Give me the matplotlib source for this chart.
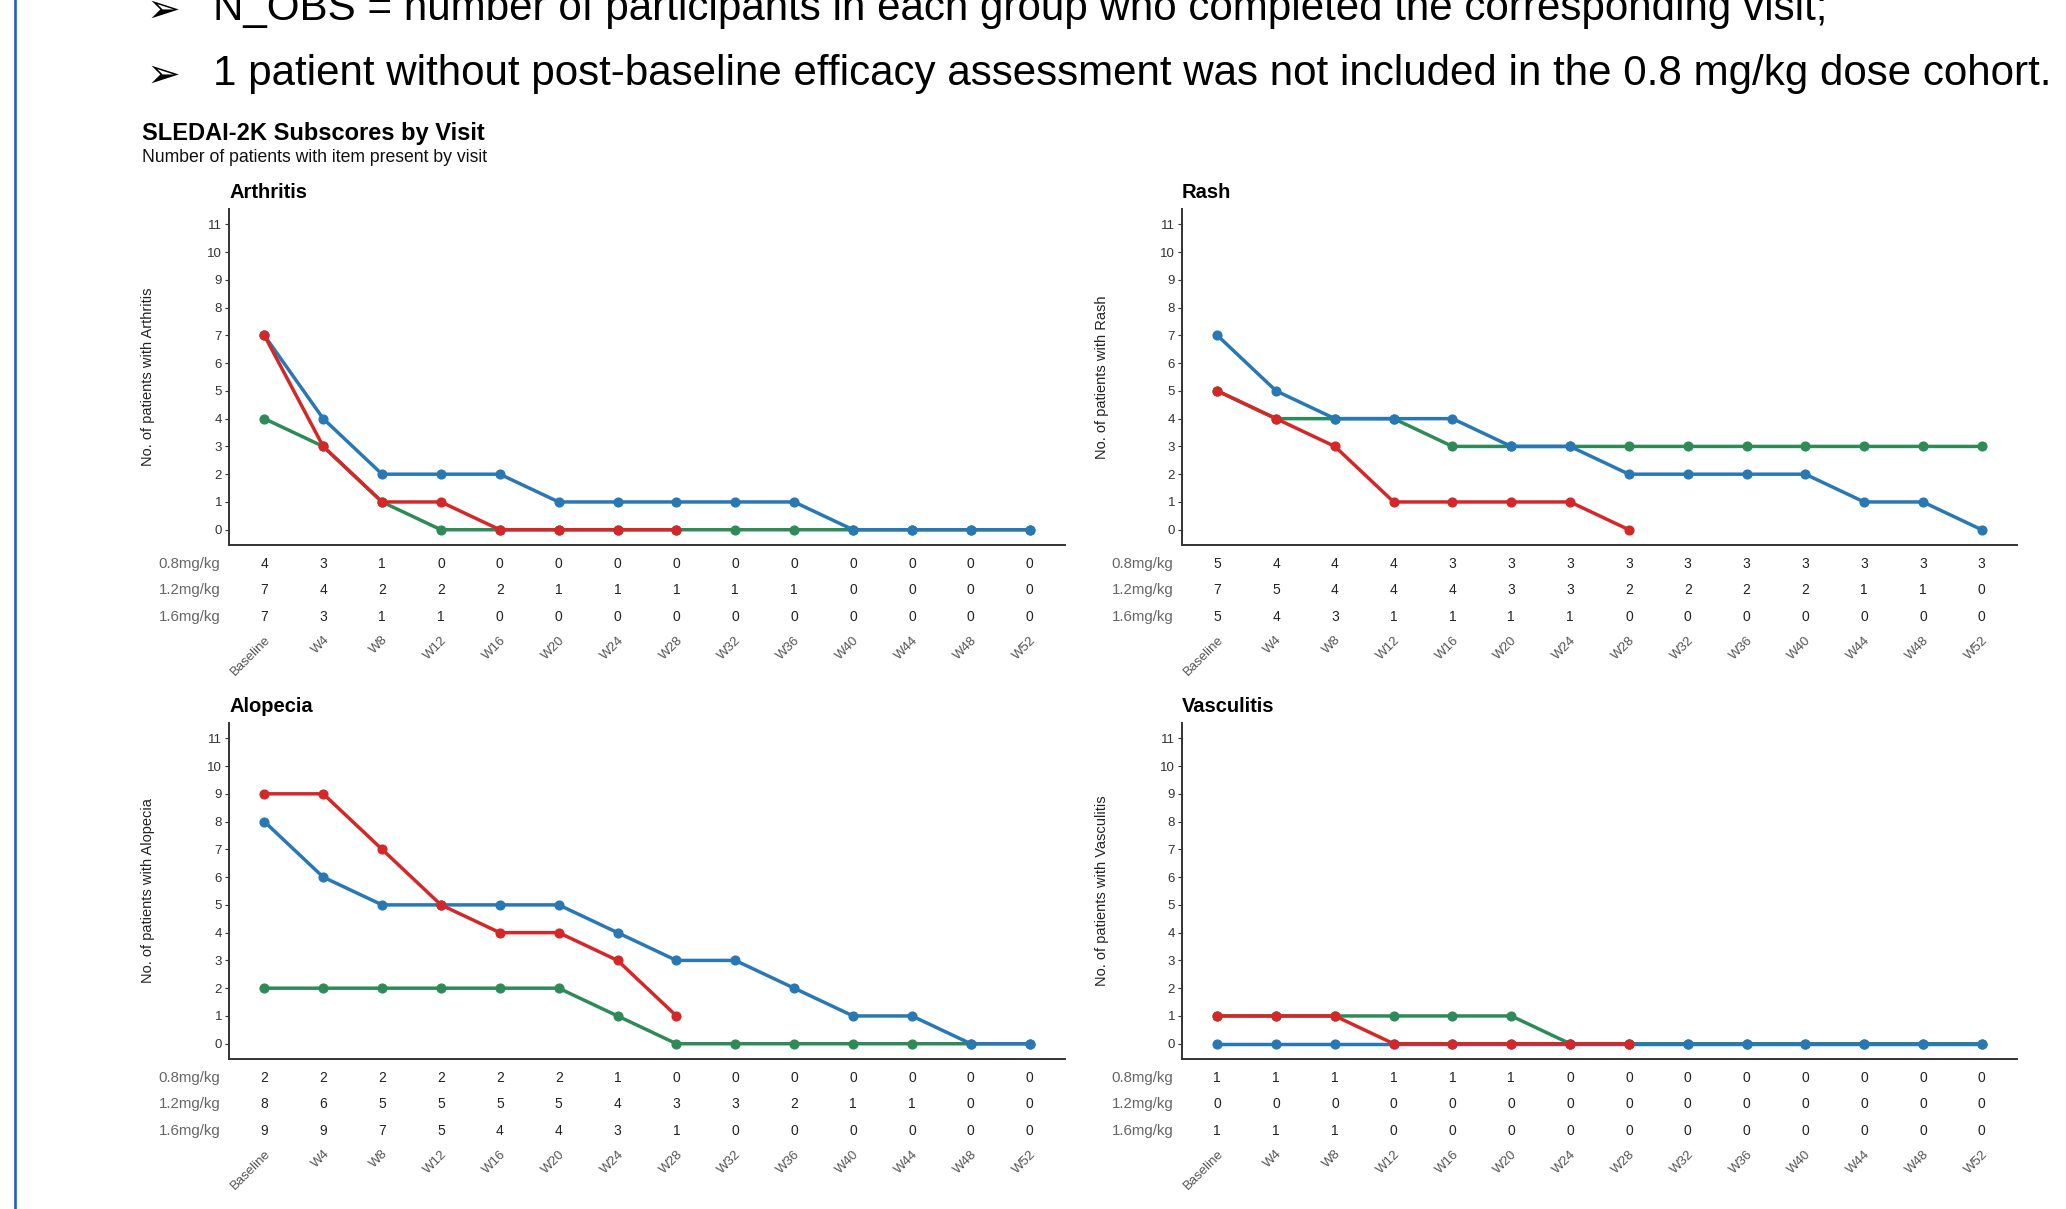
import matplotlib
matplotlib.use('Agg')
import matplotlib.pyplot as plt
from matplotlib.lines import Line2D

plt.rcParams['font.family'] = ['Liberation Sans', 'DejaVu Sans']

visits = ['Baseline', 'W4', 'W8', 'W12', 'W16', 'W20', 'W24', 'W28',
          'W32', 'W36', 'W40', 'W44', 'W48', 'W52']
doses = ['0.8mg/kg', '1.2mg/kg', '1.6mg/kg']
dose_colors = ['#2E8B57', '#2878B5', '#D62728']
# the 1.6 mg/kg cohort is only plotted up to W28
n_plot_16 = 8

arthritis_08 = [4, 3, 1, 0, 0, 0, 0, 0, 0, 0, 0, 0, 0, 0]
arthritis_12 = [7, 4, 2, 2, 2, 1, 1, 1, 1, 1, 0, 0, 0, 0]
arthritis_16 = [7, 3, 1, 1, 0, 0, 0, 0, 0, 0, 0, 0, 0, 0]

rash_08 = [5, 4, 4, 4, 3, 3, 3, 3, 3, 3, 3, 3, 3, 3]
rash_12 = [7, 5, 4, 4, 4, 3, 3, 2, 2, 2, 2, 1, 1, 0]
rash_16 = [5, 4, 3, 1, 1, 1, 1, 0, 0, 0, 0, 0, 0, 0]

alopecia_08 = [2, 2, 2, 2, 2, 2, 1, 0, 0, 0, 0, 0, 0, 0]
alopecia_12 = [8, 6, 5, 5, 5, 5, 4, 3, 3, 2, 1, 1, 0, 0]
alopecia_16 = [9, 9, 7, 5, 4, 4, 3, 1, 0, 0, 0, 0, 0, 0]

vasculitis_08 = [1, 1, 1, 1, 1, 1, 0, 0, 0, 0, 0, 0, 0, 0]
vasculitis_12 = [0, 0, 0, 0, 0, 0, 0, 0, 0, 0, 0, 0, 0, 0]
vasculitis_16 = [1, 1, 1, 0, 0, 0, 0, 0, 0, 0, 0, 0, 0, 0]

panels = [
    ('Arthritis', [arthritis_08, arthritis_12, arthritis_16]),
    ('Rash', [rash_08, rash_12, rash_16]),
    ('Alopecia', [alopecia_08, alopecia_12, alopecia_16]),
    ('Vasculitis', [vasculitis_08, vasculitis_12, vasculitis_16]),
]

W, H = 2066, 1209
fig = plt.figure(figsize=(W / 100, H / 100), dpi=100)
fig.patch.set_facecolor('white')


def px(x, y):
    return x / W, 1 - y / H


# slide decoration: left accent bar and bullet notes
fig.add_artist(Line2D([14.5 / W, 14.5 / W], [0, 1], color='#1565C0', lw=1.9))
notes = [
    (20, 'N_OBS = number of participants in each group who completed the corresponding visit;'),
    (85, '1 patient without post-baseline efficacy assessment was not included in the 0.8 mg/kg dose cohort.'),
]
for yb, txt in notes:
    fig.text(*px(147, yb + 2), '\u27a2', fontsize=29, va='baseline', ha='left',
             family=['DejaVu Sans'], color='black')
    fig.text(*px(213, yb), txt, fontsize=30.3, va='baseline', ha='left', color='black')

fig.text(*px(142, 140), 'SLEDAI-2K Subscores by Visit', fontsize=17,
         fontweight='bold', va='baseline', color='black')
fig.text(*px(142, 162), 'Number of patients with item present by visit',
         fontsize=12.7, va='baseline', color='#111111')

# axes boxes in pixels: left, top, right, bottom
boxes = [
    (229, 209, 1065, 545),
    (1182, 209, 2017, 545),
    (229, 723, 1065, 1059),
    (1182, 723, 2017, 1059),
]

for (name, series), (l, t, r, b) in zip(panels, boxes):
    ax = fig.add_axes([l / W, 1 - b / H, (r - l) / W, (b - t) / H])
    x = list(range(len(visits)))
    # draw order: 0.8 (green) at the bottom, then 1.2, then 1.6 on top
    for k, (vals, col) in enumerate(zip(series, dose_colors)):
        n = n_plot_16 if k == 2 else len(visits)
        ax.plot(x[:n], vals[:n], color=col, lw=2.5, marker='o', ms=6.3,
                zorder=2 + k, solid_capstyle='round')
    ax.set_xlim(-0.6, 13.6)
    ax.set_ylim(-0.55, 11.55)
    ax.set_yticks(range(12))
    ax.tick_params(axis='y', labelsize=9.5, labelcolor='#333333', length=3,
                   width=0.8, color='#333333', pad=2)
    ax.set_xticks(x)
    ax.set_xticklabels(visits, rotation=45, ha='right', rotation_mode='anchor',
                       fontsize=9.5, color='#555555')
    ax.tick_params(axis='x', length=0, pad=64)
    for s in ['top', 'right']:
        ax.spines[s].set_visible(False)
    for s in ['left', 'bottom']:
        ax.spines[s].set_linewidth(1.4)
        ax.spines[s].set_color('#333333')
    ax.set_ylabel(f'No. of patients with {name}', fontsize=10.5, color='#222222')
    ax.yaxis.set_label_coords(-0.088, 0.5)
    ax.set_title(name, loc='left', fontsize=14.5, fontweight='bold', pad=8)

    # risk table beneath the axis
    trans = ax.get_xaxis_transform()
    row_y = [-0.057, -0.135, -0.213]
    for d, vals, yy in zip(doses, series, row_y):
        ax.text(-0.75, yy, d, transform=trans, ha='right', va='center',
                fontsize=10.8, color='#666666', clip_on=False)
        for xi, v in zip(x, vals):
            ax.text(xi, yy, str(v), transform=trans, ha='center', va='center',
                    fontsize=10, color='#222222', clip_on=False)

fig.savefig('out.png', dpi=100, facecolor='white')
